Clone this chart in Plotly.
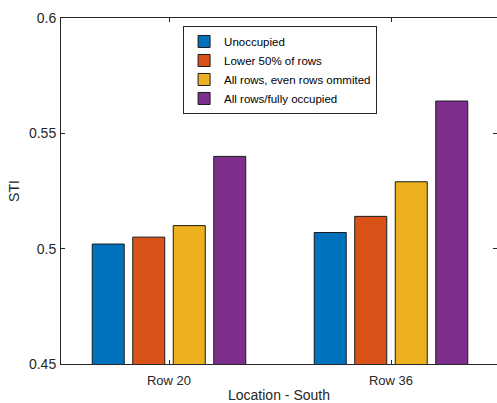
import plotly.graph_objects as go

categories = ["Row 20", "Row 36"]
series_names = ["Unoccupied", "Lower 50% of rows", "All rows, even rows ommited", "All rows/fully occupied"]
unoccupied = [0.502, 0.507]
lower_50 = [0.505, 0.514]
even_omitted = [0.510, 0.529]
fully_occupied = [0.540, 0.564]
series_values = [unoccupied, lower_50, even_omitted, fully_occupied]
colors = ["#0072BD", "#D95319", "#EDB120", "#7E2F8E"]
y_ticks = [0.45, 0.5, 0.55, 0.6]
y_tick_labels = ["0.45", "0.5", "0.55", "0.6"]

fig = go.Figure()
for name, vals, col in zip(series_names, series_values, colors):
    fig.add_trace(go.Bar(
        x=categories, y=vals, name=name,
        marker=dict(color=col, line=dict(color="#1a1a1a", width=1)),
    ))

font_family = "Liberation Sans, Arial, Helvetica, sans-serif"
fig.update_layout(
    width=497, height=403,
    margin=dict(l=61, r=0, t=18, b=39, pad=0),
    plot_bgcolor="white", paper_bgcolor="white",
    barmode="group", bargap=0.27, bargroupgap=0.21,
    font=dict(family=font_family, size=13, color="#262626"),
    showlegend=True,
    legend=dict(
        x=0.28, y=0.977, xanchor="left", yanchor="top",
        bgcolor="white", bordercolor="#262626", borderwidth=1,
        font=dict(size=11.5, color="#000000"),
        itemwidth=30, tracegroupgap=0,
    ),
    xaxis=dict(
        type="category", range=[-0.4865, 1.4775], automargin=False,
        showline=True, linecolor="#262626", linewidth=1, mirror="ticks",
        ticks="inside", ticklen=4, tickcolor="#262626",
        showgrid=False, zeroline=False, ticklabelstandoff=4,
        title=dict(text="Location - South", font=dict(size=14), standoff=3),
        tickfont=dict(size=13),
    ),
    yaxis=dict(
        range=[0.45, 0.6], tickvals=y_ticks, ticktext=y_tick_labels, automargin=False,
        showline=True, linecolor="#262626", linewidth=1,
        ticks="inside", ticklen=4, tickcolor="#262626",
        showgrid=False, zeroline=False, ticklabelstandoff=1,
        title=dict(text="STI", font=dict(size=14), standoff=6),
        tickfont=dict(size=14),
    ),
    yaxis2=dict(
        overlaying="y", side="right", matches="y", range=[0.45, 0.6], automargin=False,
        tickvals=y_ticks, showticklabels=False,
        ticks="inside", ticklen=4, tickcolor="#262626",
        showline=False, showgrid=False, zeroline=False,
    ),
)
fig.add_trace(go.Scatter(x=categories, y=[None, None], yaxis="y2", showlegend=False, hoverinfo="skip"))

fig.write_html(
    "out.html",
    config={"displayModeBar": False},
    post_script="document.body.style.margin='0';document.body.style.overflow='hidden';",
)
